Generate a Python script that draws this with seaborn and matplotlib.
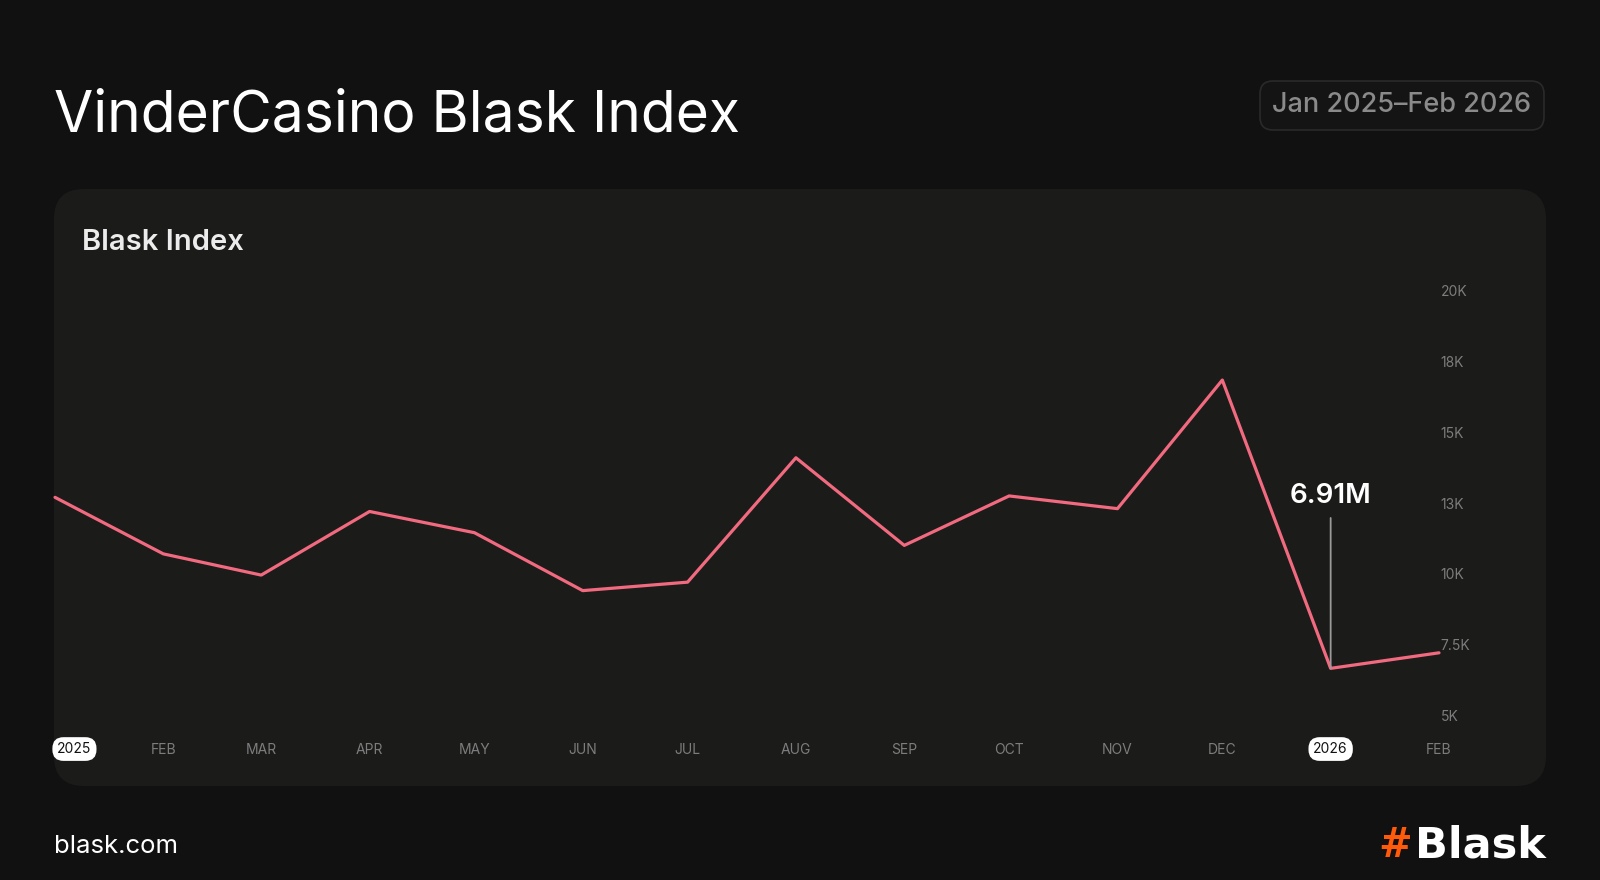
import pandas as pd
import seaborn as sns
import matplotlib.pyplot as plt
from matplotlib.patches import FancyBboxPatch

# valores (inicio de cada mes)
meses = pd.date_range('2025-01-01', '2026-02-01', freq='MS')
blask_index = [12700, 10700, 9950, 12200, 11450, 9400, 9700,
               14100, 11000, 12750, 12300, 16850, 6650, 7200]
rotulos_x = ['2025', 'FEB', 'MAR', 'APR', 'MAY', 'JUN', 'JUL',
             'AUG', 'SEP', 'OCT', 'NOV', 'DEC', '2026', 'FEB']
ticks_y = [5000, 7500, 10000, 12500, 15000, 17500, 20000]
rotulos_y = ['5K', '7.5K', '10K', '13K', '15K', '18K', '20K']
destaque_label = '6.91M'
destaque_mes = pd.Timestamp('2026-01-01')

FUNDO = '#111111'
PAINEL = '#1b1b1a'
LINHA = '#f26a7f'
CINZA = '#7d7d7d'

sns.set_theme(style='dark', rc={'axes.facecolor': PAINEL, 'figure.facecolor': FUNDO})
plt.rcParams['font.family'] = ['Inter', 'DejaVu Sans']

fig = plt.figure(figsize=(16, 8.8), dpi=100, facecolor=FUNDO)

# painel arredondado e caixa da data (em polegadas, 1 pol = 100 px)
fig.patches.append(FancyBboxPatch((0.54, 0.94), 14.92, 5.97,
                                  boxstyle='round,pad=0,rounding_size=0.3',
                                  transform=fig.dpi_scale_trans,
                                  facecolor=PAINEL, edgecolor='none', zorder=-1))
fig.patches.append(FancyBboxPatch((12.60, 7.50), 2.84, 0.49,
                                  boxstyle='round,pad=0,rounding_size=0.13',
                                  transform=fig.dpi_scale_trans,
                                  facecolor='#141414', edgecolor='#2a2a2a',
                                  linewidth=1.2, zorder=-1))

ax = fig.add_axes([55/1600, (880-715)/880, (1439-55)/1600, (715-291)/880])
ax.set_zorder(2)
ax.set_facecolor('none')

dados = pd.DataFrame({'data': meses, 'valor': blask_index})
sns.lineplot(x='data', y='valor', data=dados, ax=ax, color=LINHA,
             linewidth=2.3, clip_on=False)

ax.set_xlim(meses[0], meses[-1])
ax.set_ylim(5000, 20000)
for s in ax.spines.values():
    s.set_visible(False)
ax.grid(False)
ax.set_xlabel('')
ax.set_ylabel('')

# eixo y a direita
ax.yaxis.tick_right()
ax.set_yticks(ticks_y)
ax.set_yticklabels(rotulos_y)
ax.tick_params(axis='y', length=0, pad=1, labelsize=10, labelcolor=CINZA)

# eixo x: meses em cinza, anos em etiqueta branca
ax.set_xticks(meses)
ax.set_xticklabels(['' if r.isdigit() else r for r in rotulos_x])
ax.tick_params(axis='x', length=0, pad=20, labelsize=10, labelcolor=CINZA)
for m, r in zip(meses, rotulos_x):
    if r.isdigit():
        desloc = 14 if m == meses[0] else 0
        ax.annotate(r, xy=(m, 0), xycoords=('data', 'axes fraction'),
                    xytext=(desloc, -24.5), textcoords='offset points',
                    ha='center', va='center', fontsize=10, color='#111111',
                    bbox=dict(boxstyle='round,pad=0.35,rounding_size=0.8',
                              facecolor='white', edgecolor='none'))

# destaque do ponto de jan/2026
val = blask_index[list(meses).index(destaque_mes)]
ax.annotate(destaque_label, xy=(destaque_mes, val), xytext=(0, 124),
            textcoords='offset points', ha='center', va='center',
            fontsize=20, fontweight='semibold', color='white',
            arrowprops=dict(arrowstyle='-', color='#9a9a9a', lw=1.3,
                            shrinkA=4, shrinkB=0))

# textos
fig.text(54/1600, (880-131)/880, 'VinderCasino Blask Index', fontsize=41,
         color='white', va='baseline', ha='left')
fig.text(1402/1600, (880-105)/880, 'Jan 2025\u2013Feb 2026', fontsize=19.5,
         color='#8a8a8a', va='center', ha='center', fontweight='medium')
fig.text(82/1600, (880-250)/880, 'Blask Index', fontsize=21, color='#ececec',
         va='baseline', ha='left', fontweight='semibold')
fig.text(54/1600, (880-853)/880, 'blask.com', fontsize=18.5, color='white',
         va='baseline', ha='left')
fig.text(1412/1600, (880-857)/880, '#', fontsize=29, color='#ff5a0a',
         va='baseline', ha='right', fontweight='bold', family=['DejaVu Sans'])
fig.text(1546/1600, (880-857)/880, 'Blask', fontsize=31, color='white',
         va='baseline', ha='right', fontweight='bold', family=['DejaVu Sans'])

fig.savefig('out.png', dpi=100, facecolor=FUNDO)
